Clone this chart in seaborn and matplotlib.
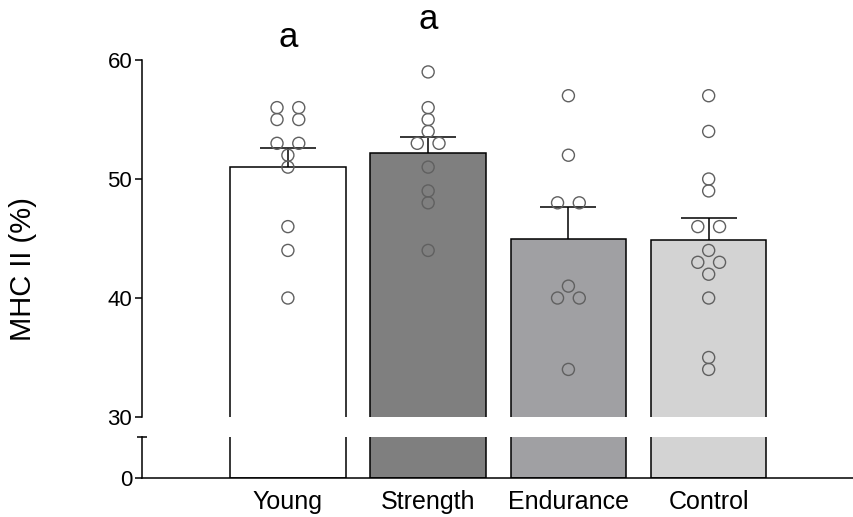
import matplotlib
matplotlib.use('Agg')
import matplotlib.pyplot as plt
import numpy as np
import pandas as pd
import seaborn as sns

groups = ['Young', 'Strength', 'Endurance', 'Control']
young = [56, 56, 55, 55, 53, 53, 52, 51, 46, 44, 40]
strength = [59, 56, 55, 54, 53, 53, 51, 49, 48, 44]
endurance = [57, 52, 48, 48, 41, 40, 40, 34]
control = [57, 54, 50, 49, 46, 46, 44, 43, 43, 42, 40, 35, 34]
bar_colors = ['#ffffff', '#7f7f7f', '#a09fa4', '#d3d3d3']
# significance letters (text, group index, y position)
letters = [('a', 0, 61.1), ('a', 1, 62.6)]


def spread(values, step=0.155):
  # prism-like scatter: equal values side by side, single ones centred
  vals = np.array(values)
  offs = np.zeros(len(vals))
  for v in np.unique(vals):
    idx = np.where(vals == v)[0]
    k = len(idx)
    offs[idx] = (np.arange(k) - (k - 1) / 2) * step
  return offs


def main():
  sns.set_theme(style='white')
  plt.rcParams['font.family'] = ['Liberation Sans', 'DejaVu Sans']
  plt.rcParams['text.color'] = 'black'

  series = [young, strength, endurance, control]
  df = pd.concat([pd.DataFrame({'group': g, 'value': v})
                  for g, v in zip(groups, series)], ignore_index=True)
  stats = df.groupby('group', sort=False)['value'].agg(['mean', 'sem'])

  fig = plt.figure(figsize=(8.54, 5.17), dpi=100)
  left, right = 0.1663, 0.999
  ax = fig.add_axes([left, 0.1934, right - left, 0.8839 - 0.1934])
  axb = fig.add_axes([left, 0.0760, right - left, 0.1547 - 0.0760])

  for a in (ax, axb):
    sns.barplot(data=df, x='group', y='value', hue='group', order=groups,
                palette=bar_colors, errorbar=None, width=0.823,
                edgecolor='black', linewidth=1.1, legend=False, ax=a)
    a.set_xlim(-1.04, 4.03)
    a.set_xlabel('')
    a.set_ylabel('')
    for s in ('top', 'right'):
      a.spines[s].set_visible(False)
    a.spines['left'].set_linewidth(1.1)
    a.spines['left'].set_color('black')
    a.tick_params(axis='y', direction='out', length=5, width=1.1,
                  pad=2, labelsize=16, colors='black', left=True)

  # upper part: SEM, upward only
  pos = np.arange(len(groups))
  eb = ax.errorbar(pos, stats['mean'].values,
                   yerr=[np.zeros(len(groups)), stats['sem'].values],
                   fmt='none', ecolor='black', elinewidth=1.1,
                   capsize=20.5, capthick=1.1, zorder=4)
  eb[1][0].set_visible(False)
  for i, v in enumerate(series):
    sns.scatterplot(x=i + spread(v), y=v, ax=ax, marker='o', s=75,
                    facecolor='none', edgecolor='#606060', linewidth=1.0,
                    zorder=5, legend=False)
  ax.set_ylim(30, 60)
  ax.set_yticks([30, 40, 50, 60])
  ax.spines['bottom'].set_visible(False)
  ax.tick_params(axis='x', bottom=False, labelbottom=False)
  for txt, gi, y in letters:
    ax.text(gi, y, txt, ha='center', va='baseline', fontsize=25,
            color='black', clip_on=False)

  # lower part
  axb.set_ylim(0, 3.42)
  axb.set_yticks([0])
  axb.spines['bottom'].set_linewidth(1.1)
  axb.spines['bottom'].set_color('black')
  axb.tick_params(axis='x', length=0, pad=9, labelsize=18, colors='black')
  axb.plot([0], [1], transform=axb.transAxes, marker='_', markersize=7,
           markeredgewidth=1.1, color='black', clip_on=False)

  fig.text(0.027, 0.48, 'MHC II (%)', rotation=90, ha='center',
           va='center', fontsize=21, color='black')

  fig.savefig('out.png', dpi=100)
  plt.close(fig)


if __name__ == '__main__':
  main()
